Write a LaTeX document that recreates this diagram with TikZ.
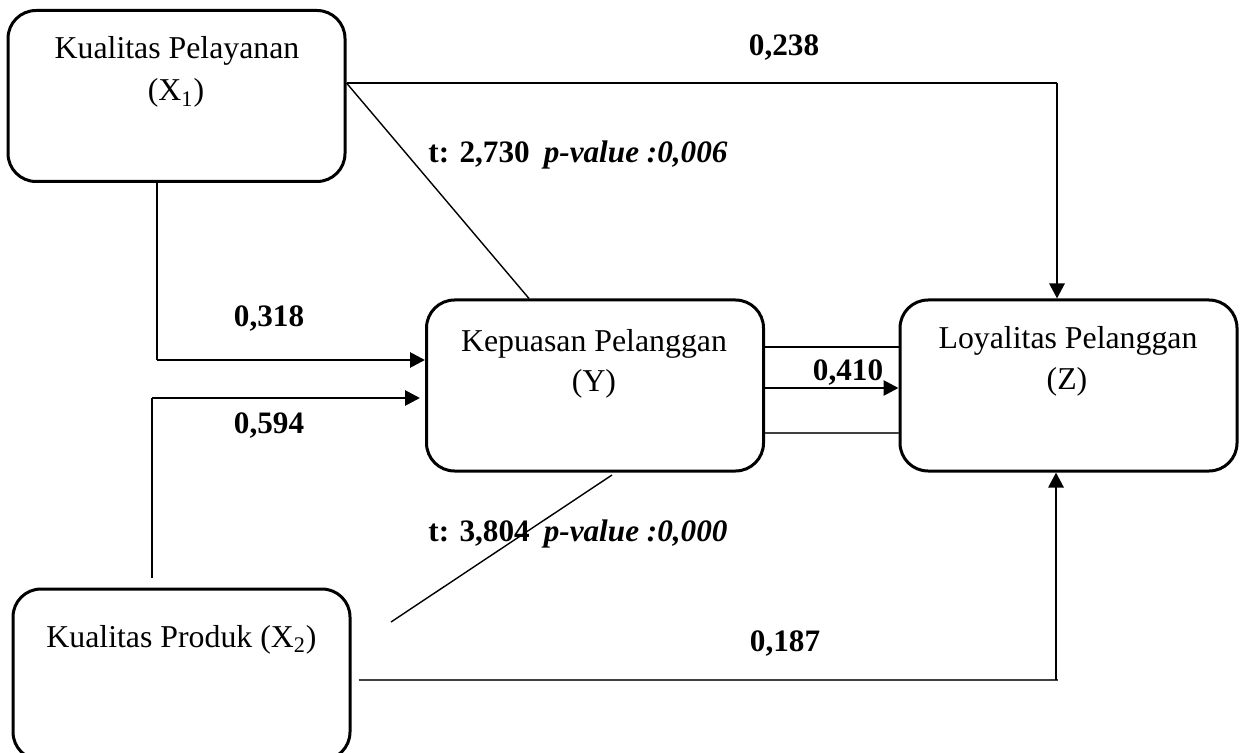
\documentclass[tikz,border=0pt]{standalone}
\usepackage{fontspec}
\setmainfont{Liberation Serif}
\usetikzlibrary{arrows.meta,calc}
\begin{document}
\begin{tikzpicture}[x=0.5pt,y=-0.5pt,
  box/.style={draw, line width=1.5pt, rounded corners=14pt,
    minimum width=168.5pt, minimum height=85.5pt, inner sep=0pt},
  txt/.style={anchor=base, inner sep=0pt, font=\fontsize{15.9}{19}\selectfont},
  lbl/.style={anchor=base, inner sep=0pt, font=\fontsize{15.6}{19}\selectfont\bfseries},
  lblw/.style={lbl, anchor=base west},
  thinline/.style={line width=0.7pt},
  grayline/.style={line width=1.1pt, draw=black!75},
  arrowline/.style={line width=1.4pt, -{Triangle[length=7.5pt,width=7.5pt]}}]
\clip (0,0) rectangle (1240,753);
\fill[white] (0,0) rectangle (1240,753);

% variable boxes
\node[box] (x1) at (176.5,96) {};
\node[box] (y) at (595,385.5) {};
\node[box] (z) at (1068.5,385.5) {};
\node[box] (x2) at (181.5,674.5) {};

% box captions
\node[txt] (x1a) at (177,59) {Kualitas Pelayanan};
\node[txt] (x1b) at (176,101) {(X\textsubscript{1})};
\node[txt] (ya) at (594,351) {Kepuasan Pelanggan};
\node[txt] (yb) at (594,391) {(Y)};
\node[txt] (za) at (1068,349) {Loyalitas Pelanggan};
\node[txt] (zb) at (1067,389) {(Z)};
\node[txt] (x2a) at (181.5,647) {Kualitas Produk (X\textsubscript{2})};

% path coefficients and test statistics
\node[lbl] (b238) at (784,56) {0,238};
\node[lbl] (b318) at (269,327) {0,318};
\node[lbl] (b594) at (269,433) {0,594};
\node[lbl] (b410) at (848,380) {0,410};
\node[lbl] (b187) at (785,651) {0,187};
\node[lblw] (t1) at (428,163) {t: 2,730\hspace{7pt}\textit{p-value :0,006}};
\node[lblw] (t2) at (428,541) {t: 3,804\hspace{7pt}\textit{p-value :0,000}};

% X1 -> Z
\coordinate (k1) at (1057,83);
\draw[thinline] (x1.east |- k1) -- (k1);
\draw[arrowline] (k1) -- (k1 |- z.north);

% X1 -> Y diagonal
\coordinate (k2) at (529,0);
\draw[thinline] (x1.east |- k1) -- (k2 |- y.north);

% X1 -> Y
\coordinate (k3) at (157,360);
\draw[thinline] (x1.south -| k3) -- (k3);
\draw[arrowline] (k3) -- (k3 -| y.west);

% X2 -> Y
\coordinate (k4) at (152,398);
\coordinate (k5) at (152,578);
\draw[thinline] (k5) -- (k4);
\draw[arrowline] (k4) -- ($(k4 -| y.west)+(-5,0)$);

% Y -> Z
\coordinate (k6) at (830,347);
\coordinate (k7) at (830,388);
\coordinate (k8) at (830,433);
\draw[thinline] (k6 -| y.east) -- (k6 -| z.west);
\draw[arrowline] (k7 -| y.east) -- (k7 -| z.west);
\draw[grayline] (k8 -| y.east) -- (k8 -| z.west);

% X2 -> Y diagonal
\coordinate (k9) at (612,475);
\coordinate (k10) at (391,622);
\draw[thinline] (k9) -- (k10);

% X2 -> Z
\coordinate (k11) at (1056,680);
\draw[grayline] ($(x2.east |- k11)+(7,0)$) -- ($(k11)+(2,0)$);
\draw[arrowline] (k11) -- (k11 |- z.south);
\end{tikzpicture}
\end{document}
